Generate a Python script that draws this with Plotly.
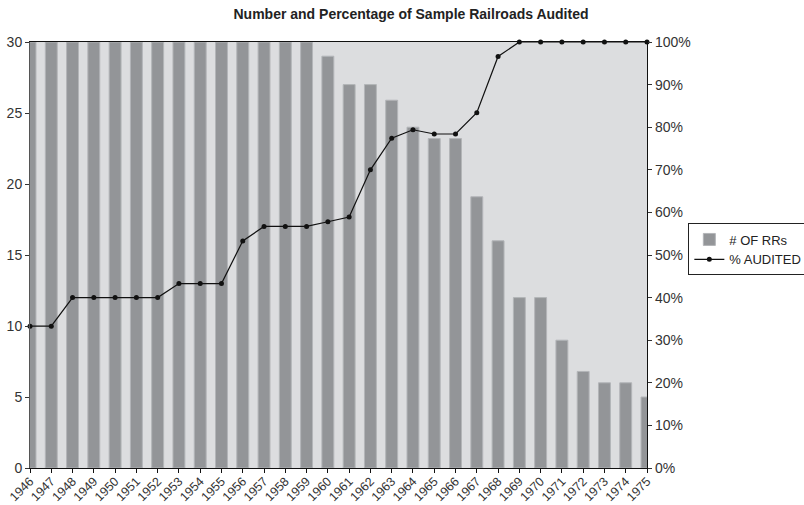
import plotly.graph_objects as go

years = list(range(1946, 1976))
num_rrs = [30, 30, 30, 30, 30, 30, 30, 30, 30, 30, 30, 30, 30, 30,
           29, 27, 27, 25.9, 24, 23.2, 23.2, 19.1, 16, 12, 12, 9, 6.8, 6, 6, 5]
pct_audited = [0.333, 0.333, 0.40, 0.40, 0.40, 0.40, 0.40, 0.433, 0.433, 0.433,
               0.533, 0.567, 0.567, 0.567, 0.578, 0.589, 0.70, 0.774, 0.794, 0.784,
               0.784, 0.834, 0.966, 1.0, 1.0, 1.0, 1.0, 1.0, 1.0, 1.0]

W, H = 804, 505
L, R, T, B = 30.3, 646.7, 42.3, 467.7

fig = go.Figure()
fig.add_trace(go.Bar(
    x=years, y=num_rrs, name="# OF RRs", width=0.56,
    marker=dict(color="#939598", line=dict(color="#b3b5b8", width=1)),
    yaxis="y",
))
fig.add_trace(go.Scatter(
    x=years, y=pct_audited, name="% AUDITED", mode="lines+markers",
    line=dict(color="#111111", width=1.2),
    marker=dict(color="#111111", size=5),
    yaxis="y2", cliponaxis=False,
))

tickfont = dict(family="Liberation Sans, Arial, sans-serif", size=14, color="#333333")
xtickfont = dict(family="Liberation Sans, Arial, sans-serif", size=12.5, color="#333333")
fig.update_layout(
    width=W, height=H,
    margin=dict(l=L, r=W - R, t=T, b=H - B, pad=0, autoexpand=False),
    paper_bgcolor="white",
    plot_bgcolor="#dcdddf",
    title=dict(text="<b>Number and Percentage of Sample Railroads Audited</b>",
               x=411 / W, xanchor="center", y=1 - 14 / H, yanchor="middle",
               font=dict(family="Liberation Sans, Arial, sans-serif", size=14, color="#222222")),
    xaxis=dict(range=[1946, 1975], tickmode="linear", tick0=1946, dtick=1, automargin=False,
               tickangle=-45, tickfont=xtickfont, showgrid=False, zeroline=False,
               showline=True, linecolor="#111111", linewidth=1.2, mirror=True,
               ticks="outside", ticklen=4, tickcolor="#111111", ticklabelstandoff=-4),
    yaxis=dict(range=[0, 30], dtick=5, tickfont=tickfont, showgrid=False, zeroline=False,
               automargin=False,
               showline=True, linecolor="#555555", linewidth=1,
               ticks="outside", ticklen=4, tickcolor="#333333"),
    yaxis2=dict(range=[0, 1], dtick=0.1, tickformat=".0%", overlaying="y", side="right",
                automargin=False,
                tickfont=tickfont, showgrid=False, zeroline=False,
                showline=True, linecolor="#111111", linewidth=1.2,
                ticks="outside", ticklen=4, tickcolor="#333333"),
    legend=dict(x=(688 - L) / (R - L), xanchor="left", y=(B - 249.5) / (B - T), yanchor="middle",
                bgcolor="white", bordercolor="#222222", borderwidth=1,
                font=dict(family="Liberation Sans, Arial, sans-serif", size=13, color="#222222"),
                tracegroupgap=0, itemwidth=30),
    bargap=0.44,
    showlegend=True,
)

fig.write_html("out.html")
